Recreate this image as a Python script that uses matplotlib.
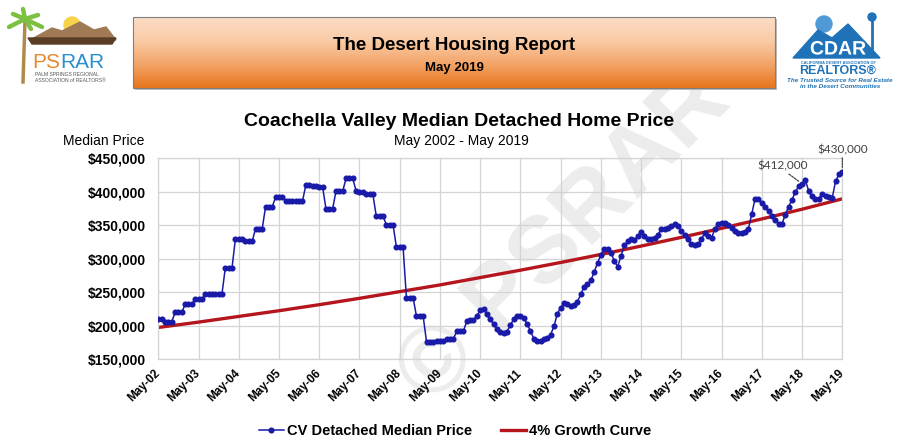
import numpy as np
import matplotlib
matplotlib.use("Agg")
import matplotlib.pyplot as plt
import matplotlib.ticker
import matplotlib.patheffects as pe
from matplotlib.colors import LinearSegmentedColormap
from matplotlib.lines import Line2D
from matplotlib.patches import Polygon, Rectangle, Circle

plt.rcParams['font.family'] = ['Liberation Sans', 'DejaVu Sans']

# Monthly median price ($000), May 2002 .. May 2019
prices = [
    210, 210, 206, 206, 206, 220, 220, 220, 232, 232, 232, 240,   # May-02..Apr-03
    240, 240, 247, 247, 247, 248, 248, 248, 287, 287, 287, 330,   # May-03..Apr-04
    330, 330, 326, 326, 326, 345, 345, 345, 378, 378, 378, 392,   # May-04..Apr-05
    392, 392, 386, 386, 386, 386, 386, 386, 410, 410, 409, 408,   # May-05..Apr-06
    407, 407, 375, 375, 375, 401, 401, 401, 420, 420, 420, 401,   # May-06..Apr-07
    400, 400, 396, 396, 396, 364, 364, 364, 351, 351, 351, 318,   # May-07..Apr-08
    318, 318, 242, 242, 242, 214, 214, 214, 176, 176, 176, 177,   # May-08..Apr-09
    177, 177, 180, 180, 180, 192, 192, 192, 207, 208, 208, 215,   # May-09..Apr-10
    223, 225, 218, 210, 202, 195, 191, 190, 191, 201, 210, 215,   # May-10..Apr-11
    215, 211, 203, 192, 181, 177, 178, 180, 182, 187, 199, 218,   # May-11..Apr-12
    227, 234, 233, 230, 231, 236, 247, 258, 262, 268, 280, 294,   # May-12..Apr-13
    306, 315, 315, 309, 297, 288, 304, 320, 326, 329, 328, 334,   # May-13..Apr-14
    340, 334, 330, 329, 331, 336, 344, 344, 346, 349, 352, 349,   # May-14..Apr-15
    341, 336, 329, 322, 320, 322, 329, 339, 334, 331, 345, 352,   # May-15..Apr-16
    354, 354, 351, 346, 341, 338, 338, 340, 345, 367, 390, 390,   # May-16..Apr-17
    384, 378, 371, 364, 358, 352, 352, 366, 378, 388, 400, 408,   # May-17..Apr-18
    412, 417, 401, 393, 390, 390, 397, 394, 392, 391, 416, 426,   # May-18..Apr-19
    430,                                                          # May-19
]

# 4% growth curve ($000), value each May 2002 .. May 2019
growth = [197.5, 205.5, 214, 222.5, 231.5, 241, 251, 261, 272, 283,
          294.5, 306.5, 319, 332, 345.5, 359.5, 374, 389.5]

tick_labels = ["May-%02d" % y for y in range(2, 20)]

callouts = [("May-18", 412), ("May-19", 430)]

prices = np.array(prices) * 1000
growth = np.array(growth) * 1000
months = np.arange(len(prices))
growth_months = np.arange(len(growth)) * 12

BLUE = "#1a1aa8"
RED = "#b5161d"
LOGO_BLUE = "#1f72b8"

W, H = 907, 447
fig = plt.figure(figsize=(W / 100, H / 100), dpi=100)
fig.patch.set_facecolor("white")

# decoration layer in pixel coordinates (header, logos, watermark)
deco = fig.add_axes([0, 0, 1, 1], zorder=-1)
deco.set_xlim(0, W)
deco.set_ylim(H, 0)
deco.axis("off")

grad = LinearSegmentedColormap.from_list(
    "hdr", ["#fcdcc6", "#f9cba6", "#f3a467", "#e8761c"])
deco.imshow(np.linspace(0, 1, 100).reshape(-1, 1), cmap=grad, aspect="auto",
            extent=(133, 775, 88, 17), origin="upper", zorder=1)
deco.add_patch(Rectangle((135, 19), 642, 71, facecolor="#bbbbbb",
                         edgecolor="none", zorder=0.5))
deco.add_patch(Rectangle((133, 17), 642, 71, facecolor="none",
                         edgecolor="#7f7f7f", lw=0.8, zorder=2))
deco.text(454, 45, "The Desert Housing Report", ha="center", va="center",
          fontsize=13.5, fontweight="bold", zorder=3)
deco.text(454, 68, "May 2019", ha="center", va="center",
          fontsize=9.5, fontweight="bold", zorder=3)

# PSRAR logo (simplified)
deco.add_patch(Circle((72, 25), 8, color="#f6d34a", zorder=1))
deco.add_patch(Polygon([[30, 40], [52, 28], [62, 31], [80, 22], [94, 30],
                        [106, 27], [116, 40]], color="#a07a55", zorder=2))
deco.add_patch(Polygon([[28, 38], [116, 38], [112, 44], [32, 44]],
                       color="#5a3d25", zorder=2))
deco.plot([25, 23], [20, 82], color="#b08a4a", lw=2.5, zorder=3)
for dx, dy in [(-16, 8), (-12, -5), (13, -4), (17, 8), (-2, -10), (6, 10)]:
    deco.plot([25, 25 + dx], [19, 19 + dy], color="#7dc142", lw=3.2,
              solid_capstyle="round", zorder=3)
deco.text(32, 63, "PS", color="#e8892a", fontsize=15, ha="left",
          va="center", zorder=3)
deco.text(60, 63, "RAR", color="#2a8fd0", fontsize=15, ha="left",
          va="center", zorder=3)
deco.text(35, 74, "PALM SPRINGS REGIONAL", fontsize=3.6, color="#555555",
          ha="left", va="center", zorder=3)
deco.text(35, 80, "ASSOCIATION of REALTORS\u00ae", fontsize=3.6,
          color="#555555", ha="left", va="center", zorder=3)

# CDAR logo (simplified)
deco.add_patch(Circle((824, 24), 8, color="#4f9ad6", zorder=0.8))
deco.add_patch(Polygon([[793, 58], [818, 30], [832, 38], [848, 24],
                        [880, 58]], color=LOGO_BLUE, zorder=1))
deco.plot([872, 872], [18, 50], color=LOGO_BLUE, lw=2, zorder=2)
deco.add_patch(Circle((872, 17), 4, color=LOGO_BLUE, zorder=2))
deco.text(838, 50, "CDAR", fontsize=14, fontweight="bold", color="white",
          ha="center", va="center", zorder=3,
          path_effects=[pe.withStroke(linewidth=2.2, foreground=LOGO_BLUE)])
deco.text(838, 63, "CALIFORNIA DESERT ASSOCIATION OF", fontsize=2.8,
          fontweight="bold", color=LOGO_BLUE, ha="center", va="center")
deco.text(838, 71, "REALTORS\u00ae", fontsize=9, fontweight="bold",
          color=LOGO_BLUE, ha="center", va="center")
deco.text(840, 80, "The Trusted Source for Real Estate", fontsize=4.6,
          fontstyle="italic", fontweight="bold", color=LOGO_BLUE,
          ha="center", va="center")
deco.text(840, 87, "in the Desert Communities", fontsize=4.6,
          fontstyle="italic", fontweight="bold", color=LOGO_BLUE,
          ha="center", va="center")

# watermark
deco.text(565, 238, "\u00a9 PSRAR", fontsize=68, fontweight="bold",
          color="#ececec", rotation=45, ha="center", va="center", zorder=0)

# titles
fig.text(459 / W, 1 - 122 / H, "Coachella Valley Median Detached Home Price",
         ha="center", va="center", fontsize=14, fontweight="bold")
fig.text(461 / W, 1 - 141 / H, "May 2002 - May 2019",
         ha="center", va="center", fontsize=10)
fig.text(63 / W, 1 - 141 / H, "Median Price", ha="left", va="center",
         fontsize=10)

# chart
ax = fig.add_axes([158.3 / W, 1 - 359.3 / H, 684 / W, 201 / H])
ax.set_facecolor("none")
ax.plot(growth_months, growth, color=RED, lw=2.4, zorder=2,
        label="4% Growth Curve")
ax.plot(months, prices, color=BLUE, lw=1.1, marker="o", ms=4.4,
        markeredgewidth=0, zorder=3, label="CV Detached Median Price")

ax.set_xlim(0, len(prices) - 1)
ax.set_ylim(150000, 450000)
ax.set_xticks(np.arange(0, len(prices), 12))
ax.set_xticklabels(tick_labels, rotation=45, ha="right", va="center",
                   rotation_mode="anchor", fontsize=8.5, fontweight="bold")
ax.set_yticks(np.arange(150000, 450001, 50000))
ax.yaxis.set_major_formatter(matplotlib.ticker.FuncFormatter(
    lambda y, p: "${:,.0f}".format(y)))
for lab in ax.get_yticklabels():
    lab.set_fontweight("bold")
    lab.set_fontsize(10)
ax.tick_params(axis="both", length=0)
ax.tick_params(axis="y", pad=9)
ax.tick_params(axis="x", pad=9)
ax.grid(True, color="#d4d4d4", lw=0.9)
ax.set_axisbelow(True)
for s in ax.spines.values():
    s.set_color("#d4d4d4")
    s.set_linewidth(0.9)

# callouts
lab_month = {lab: i * 12 for i, lab in enumerate(tick_labels)}
(m1, v1), (m2, v2) = callouts
ax.annotate("${:,.0f}".format(v1 * 1000), xy=(lab_month[m1], v1 * 1000),
            xytext=(-14, 9), textcoords="offset points", ha="center",
            va="bottom", fontsize=8.5, family="Lato", color="#404040",
            arrowprops=dict(arrowstyle="-", color="#333333", lw=0.8,
                            ls=(0, (2, 1)), shrinkA=0, shrinkB=3,
                            relpos=(0.55, 0.0)))
ax.annotate("${:,.0f}".format(v2 * 1000), xy=(lab_month[m2], v2 * 1000),
            xytext=(0, 12), textcoords="offset points", ha="center",
            va="bottom", fontsize=8.5, family="Lato", color="#404040",
            annotation_clip=False,
            arrowprops=dict(arrowstyle="-", color="#333333", lw=0.8,
                            ls=(0, (1.5, 1)), shrinkA=0, shrinkB=3,
                            relpos=(0.5, 0.0)))

handles = [
    Line2D([], [], color=BLUE, lw=1.1, marker="o", ms=4.4,
           markeredgewidth=0),
    Line2D([], [], color=RED, lw=2.4),
]
fig.legend(handles, ["CV Detached Median Price", "4% Growth Curve"],
           loc="center", bbox_to_anchor=(455 / W, 1 - 431 / H), ncol=2,
           frameon=False, numpoints=1, handlelength=1.7, handletextpad=0.2,
           columnspacing=2.0, prop=dict(weight="bold", size=10.5))

fig.savefig("out.png", dpi=100)
